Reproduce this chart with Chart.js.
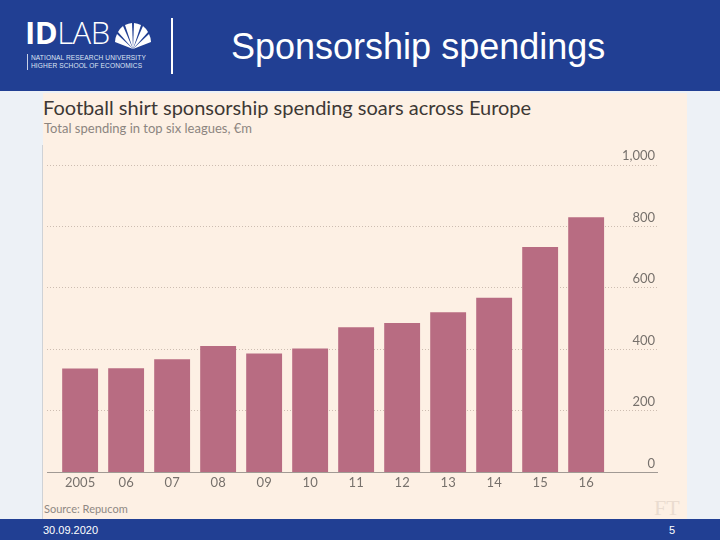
<!DOCTYPE html>
<html>
<head>
<meta charset="utf-8">
<script src="https://cdn.jsdelivr.net/npm/chart.js@4/dist/chart.umd.min.js"></script>
<style>
  html, body { margin: 0; padding: 0; }
  body { width: 720px; height: 540px; position: relative; overflow: hidden; background: #edf1f6; font-family: 'Liberation Sans', Arial, sans-serif; }
  #header { position: absolute; left: 0; top: 0; width: 720px; height: 91px; background: #213f93; }
  #logo { position: absolute; left: 25px; top: 14px; color: #fff; }
  #logo .big { font-family: 'Open Sans', sans-serif; font-size: 31px; line-height: 36px; letter-spacing: -0.5px; }
  #logo .big b { font-weight: 700; }
  #logo .big span { font-weight: 300; }
  #logo .small { position: absolute; left: 2px; top: 40px; border-left: 1px solid #c8d0e6; padding-left: 3px; font-size: 6.6px; line-height: 8px; letter-spacing: 0.1px; color: #dfe5f3; white-space: nowrap; }
  #shell { position: absolute; left: 88px; top: 6px; }
  #divider { position: absolute; left: 171px; top: 18px; width: 2px; height: 56px; background: #fff; }
  #slideTitle { position: absolute; left: 231px; top: 26px; color: #fff; font-size: 36px; line-height: 42px; white-space: nowrap; }
  #panel { position: absolute; left: 43px; top: 93px; width: 644px; height: 426px; background: #fdf0e4; }
  #edge { position: absolute; left: 42px; top: 145px; width: 1px; height: 374px; background: #cfd2d6; }
  #ftTitle { position: absolute; left: 43px; top: 95px; font-family: Lato, sans-serif; font-size: 20px; line-height: 24px; color: #3d3835; white-space: nowrap; }
  #ftSub { position: absolute; left: 44px; top: 120px; font-family: Lato, sans-serif; font-size: 13px; line-height: 16px; color: #8c8580; white-space: nowrap; }
  #source { position: absolute; left: 44px; top: 502px; font-family: Lato, sans-serif; font-size: 11px; line-height: 14px; color: #8f8883; white-space: nowrap; }
  #ftMark { position: absolute; left: 654px; top: 496px; font-family: 'Liberation Serif', serif; font-size: 22px; line-height: 24px; color: #eadcd0; }
  #footer { position: absolute; left: 0; top: 519px; width: 720px; height: 21px; background: #213f93; color: #fff; font-size: 11px; line-height: 21px; }
  #footer .date { position: absolute; left: 43px; top: 1px; }
  #footer .page { position: absolute; left: 669px; top: 1px; }
  #chart { position: absolute; left: 0; top: 0; }
</style>
</head>
<body>
<div id="header">
  <div id="logo">
    <div class="big"><b>ID</b><span>LAB</span></div>
    <svg id="shell" width="40" height="30" viewBox="0 0 40 30">
      <g fill="#fff">
        <path d="M20 29 L2 22 A19 19 0 0 1 4 14 Z"/>
        <path d="M20 29 L5 12 A19 19 0 0 1 10 6 Z"/>
        <path d="M20 29 L12 5 A19 19 0 0 1 19 3 Z"/>
        <path d="M20 29 L21 3 A19 19 0 0 1 28 5 Z"/>
        <path d="M20 29 L30 6 A19 19 0 0 1 35 12 Z"/>
        <path d="M20 29 L36 14 A19 19 0 0 1 38 22 Z"/>
      </g>
    </svg>
    <div class="small">NATIONAL RESEARCH UNIVERSITY<br>HIGHER SCHOOL OF ECONOMICS</div>
  </div>
  <div id="divider"></div>
  <div id="slideTitle">Sponsorship spendings</div>
</div>
<div id="panel"></div>
<div id="edge"></div>
<div id="ftTitle">Football shirt sponsorship spending soars across Europe</div>
<div id="ftSub">Total spending in top six leagues, €m</div>
<div id="source">Source: Repucom</div>
<div id="ftMark">FT</div>
<div id="footer"><span class="date">30.09.2020</span><span class="page">5</span></div>
<canvas id="chart" width="720" height="540"></canvas>
<script>
// data (€m)
const years = ['2005', '06', '07', '08', '09', '10', '11', '12', '13', '14', '15', '16'];
const spending = [338, 339, 368, 411, 387, 403, 472, 486, 521, 568, 733, 830];
const yTicks = [0, 200, 400, 600, 800, 1000];

const COLORS = {
  bar: '#b86c82',
  grid: '#cdbdb1',
  axis: '#a19a94',
  text: '#77716c',
};

const ctx = document.getElementById('chart').getContext('2d');

new Chart(ctx, {
  type: 'bar',
  data: {
    datasets: [
      {
        label: 'Spending',
        data: spending.map((v, i) => ({ x: i, y: v })),
        backgroundColor: COLORS.bar,
        borderWidth: 0,
        categoryPercentage: 1,
        barPercentage: 0.78,
      },
    ],
  },
  options: {
    responsive: false,
    animation: false,
    layout: { padding: { left: 47, right: 63, top: 165, bottom: 46 } },
    plugins: {
      legend: { display: false },
      tooltip: { enabled: false },
    },
    scales: {
      x: {
        type: 'linear',
        offset: false,
        min: -0.72,
        max: 12.54,
        grid: { display: false, drawTicks: false },
        border: { display: true, color: COLORS.axis, width: 1 },
        afterBuildTicks: (scale) => { scale.ticks = years.map((_, i) => ({ value: i })); },
        ticks: {
          color: COLORS.text,
          font: { family: 'Lato', size: 13 },
          padding: 3,
          autoSkip: false,
          maxRotation: 0,
          callback: (v) => years[v] ?? '',
        },
      },
      y: {
        position: 'right',
        min: 0,
        max: 1000,
        afterBuildTicks: (scale) => { scale.ticks = yTicks.map(v => ({ value: v })); },
        afterFit: (scale) => { scale.width = 0; },
        grid: { color: COLORS.grid, drawTicks: false, lineWidth: 1 },
        border: { display: false, dash: [1, 2] },
        ticks: {
          mirror: true,
          padding: -2,
          labelOffset: -9,
          color: COLORS.text,
          font: { family: 'Lato', size: 13 },
          callback: (v) => v.toLocaleString('en-US'),
        },
      },
    },
  },
});
</script>
</body>
</html>
